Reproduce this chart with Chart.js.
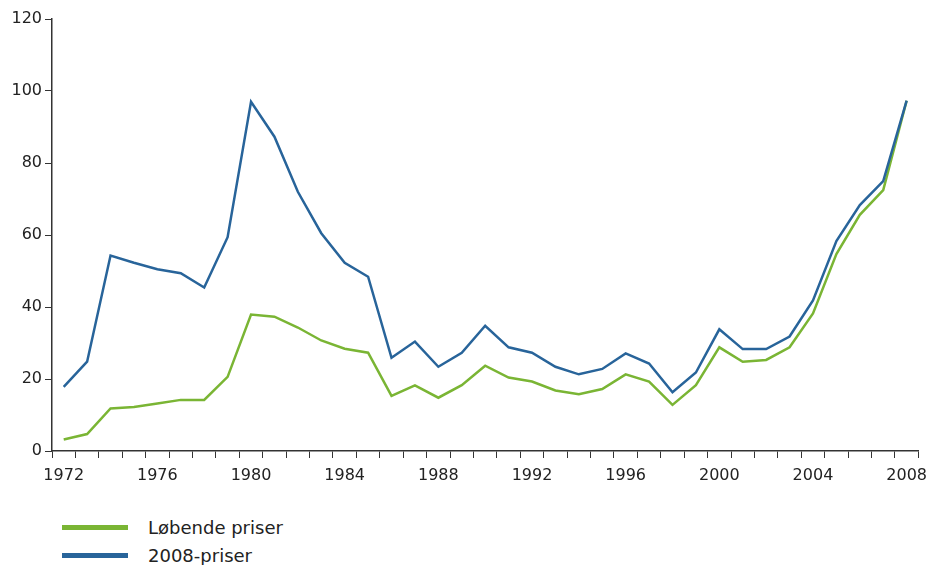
<!DOCTYPE html>
<html>
<head>
<meta charset="utf-8">
<script src="https://cdn.jsdelivr.net/npm/chart.js@4.4.1/dist/chart.umd.min.js"></script>
<style>
    body { margin: 0; background: #fff; font-family: "DejaVu Sans", Verdana, sans-serif; overflow: hidden; }
    #wrap { position: relative; width: 930px; height: 491px; overflow: hidden; }
    #legend { position: absolute; left: 62px; top: 513px; }
    .legend-item { display: flex; align-items: center; height: 28px; font-size: 18px; color: #222; }
    .legend-swatch { width: 66px; height: 5px; margin-right: 20px; }
</style>
</head>
<body>
<div id="wrap"><canvas id="chart" width="935" height="491"></canvas></div>
<div id="legend"></div>
<script>
const years = [];
for (let y = 1972; y <= 2008; y++) years.push(String(y));

const lobendePriser = [
    3.2, 4.7, 11.8, 12.2, 13.2, 14.2, 14.2, 20.6, 37.9, 37.3,
    34.3, 30.7, 28.4, 27.3, 15.3, 18.2, 14.8, 18.3, 23.7, 20.4,
    19.3, 16.8, 15.8, 17.2, 21.3, 19.3, 12.8, 18.3, 28.8, 24.8,
    25.3, 28.8, 38.2, 54.7, 65.6, 72.5, 97.3
];
const priser2008 = [
    17.8, 24.8, 54.3, 52.3, 50.5, 49.4, 45.4, 59.4, 97.0, 87.3,
    72.0, 60.5, 52.3, 48.4, 25.9, 30.4, 23.4, 27.3, 34.8, 28.8,
    27.3, 23.4, 21.3, 22.8, 27.1, 24.3, 16.3, 21.8, 33.8, 28.3,
    28.3, 31.8, 41.8, 58.3, 68.3, 75.0, 97.3
];
const yTicks = [0, 20, 40, 60, 80, 100, 120];

const GREEN = '#7ab534';
const BLUE = '#28649a';
const AXIS = '#333';
const font = { family: '"DejaVu Sans", Verdana, sans-serif', size: 16 };

const datasets = [
    { label: 'Løbende priser', data: lobendePriser, borderColor: GREEN, order: 1 },
    { label: '2008-priser', data: priser2008, borderColor: BLUE, order: 0 }
].map(d => Object.assign(d, { borderWidth: 2.5, pointRadius: 0, tension: 0, fill: false }));

new Chart(document.getElementById('chart'), {
    type: 'line',
    data: { labels: years, datasets },
    options: {
        responsive: false,
        animation: false,
        layout: { padding: { top: 19, right: 0, left: 0, bottom: 0 } },
        plugins: { legend: { display: false }, tooltip: { enabled: false } },
        scales: {
            x: {
                offset: true,
                grid: { offset: true, drawOnChartArea: false, drawTicks: true, tickLength: 7, color: AXIS, lineWidth: 1 },
                border: { color: AXIS, width: 1.5 },
                ticks: {
                    autoSkip: false, maxRotation: 0, color: '#222', font, padding: 8,
                    callback: (v, i) => (i % 4 === 0 ? years[i] : '')
                },
                afterFit: s => { s.height = 40; }
            },
            y: {
                min: 0, max: 120,
                afterBuildTicks: s => { s.ticks = yTicks.map(v => ({ value: v })); },
                grid: { drawOnChartArea: false, drawTicks: true, tickLength: 7, color: AXIS, lineWidth: 1 },
                border: { color: AXIS, width: 1.5 },
                ticks: { color: '#222', font, padding: 3 },
                afterFit: s => { s.width = 52; }
            }
        }
    }
});

// legend below the chart, one row per series
const legend = document.getElementById('legend');
datasets.forEach(d => {
    const row = document.createElement('div');
    row.className = 'legend-item';
    row.innerHTML = `<span class="legend-swatch" style="background:${d.borderColor}"></span><span>${d.label}</span>`;
    legend.appendChild(row);
});
</script>
</body>
</html>
